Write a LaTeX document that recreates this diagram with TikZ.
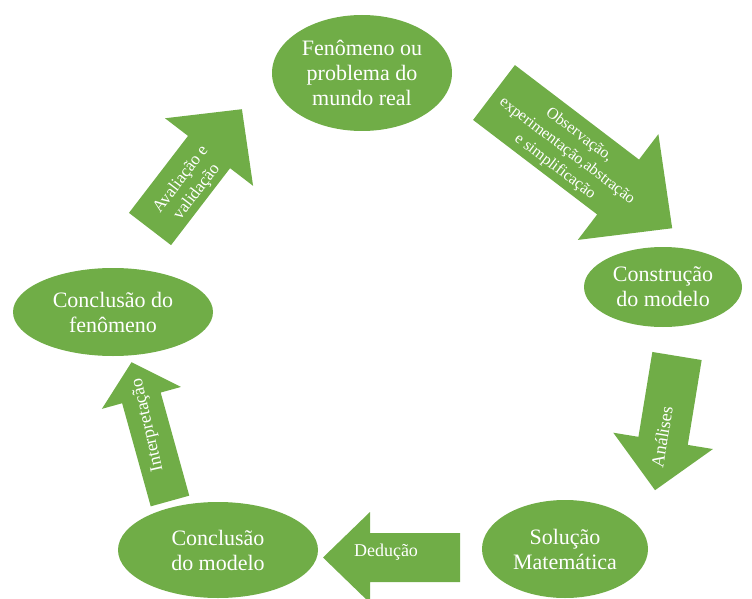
\documentclass[tikz,border=0pt]{standalone}
\usepackage{fontspec}
\setmainfont{Liberation Serif}
\usetikzlibrary{shapes.geometric}
\definecolor{leaf}{RGB}{112,173,71}
\tikzset{
  stage/.style={ellipse, fill=leaf, text=white, inner sep=0pt, align=center,
    font=\fontsize{22}{25}\selectfont},
  flowlabel/.style={text=white, align=center, inner sep=0pt,
    font=\fontsize{18}{20}\selectfont},
}
% block arrow: #1 tail centre, #2 direction, #3 length, #4 shaft width,
% #5 head width, #6 head length
\newcommand\blockarrow[6]{%
  \fill[leaf, shift={(#1)}, rotate=#2]
    (0,-#4/2) -- (#3-#6,-#4/2) -- (#3-#6,-#5/2) -- (#3,0)
    -- (#3-#6,#5/2) -- (#3-#6,#4/2) -- (0,#4/2) -- cycle;}
\begin{document}
\begin{tikzpicture}[x=1pt,y=-1pt]
\useasboundingbox (0,0) rectangle (752,599);

% stages of the modelling cycle
\node[stage, minimum width=180, minimum height=116] (real) at (362,73)
  {Fenômeno ou\\problema do\\mundo real};
\node[stage, minimum width=158, minimum height=80] (build) at (663,287)
  {Construção\\do modelo};
\node[stage, minimum width=166, minimum height=98] (solve) at (565,549)
  {Solução\\Matemática};
\node[stage, minimum width=200, minimum height=96] (model) at (218,550)
  {Conclusão\\do modelo};
\node[stage, minimum width=200, minimum height=88] (phen) at (113,312)
  {Conclusão do\\fenômeno};

% transitions between stages
\blockarrow{494,92.5}{-37.3}{224}{69}{133}{68}
\blockarrow{150,229}{52.5}{151}{53}{111}{54}
\blockarrow{170,501}{105.5}{144}{40}{82}{37}
\blockarrow{677,356}{-99.3}{136}{50}{101}{50}
\blockarrow{460,557.5}{180}{137}{49}{91}{47}

% transition labels
\node[flowlabel, rotate=-37.3, font=\fontsize{16}{20}\selectfont] (obs) at (567,151)
  {Observação,\\experimentação,abstração\\e simplificação};
\node[flowlabel, rotate=52.5, font=\fontsize{17}{20}\selectfont] (aval) at (189,186)
  {Avaliação e\\validação};
\node[flowlabel, rotate=103] (interp) at (148,425) {Interpretação};
\node[flowlabel, rotate=80.7] (anal) at (662,437) {Análises};
\node[flowlabel] (ded) at (386,552) {Dedução};
\end{tikzpicture}
\end{document}
